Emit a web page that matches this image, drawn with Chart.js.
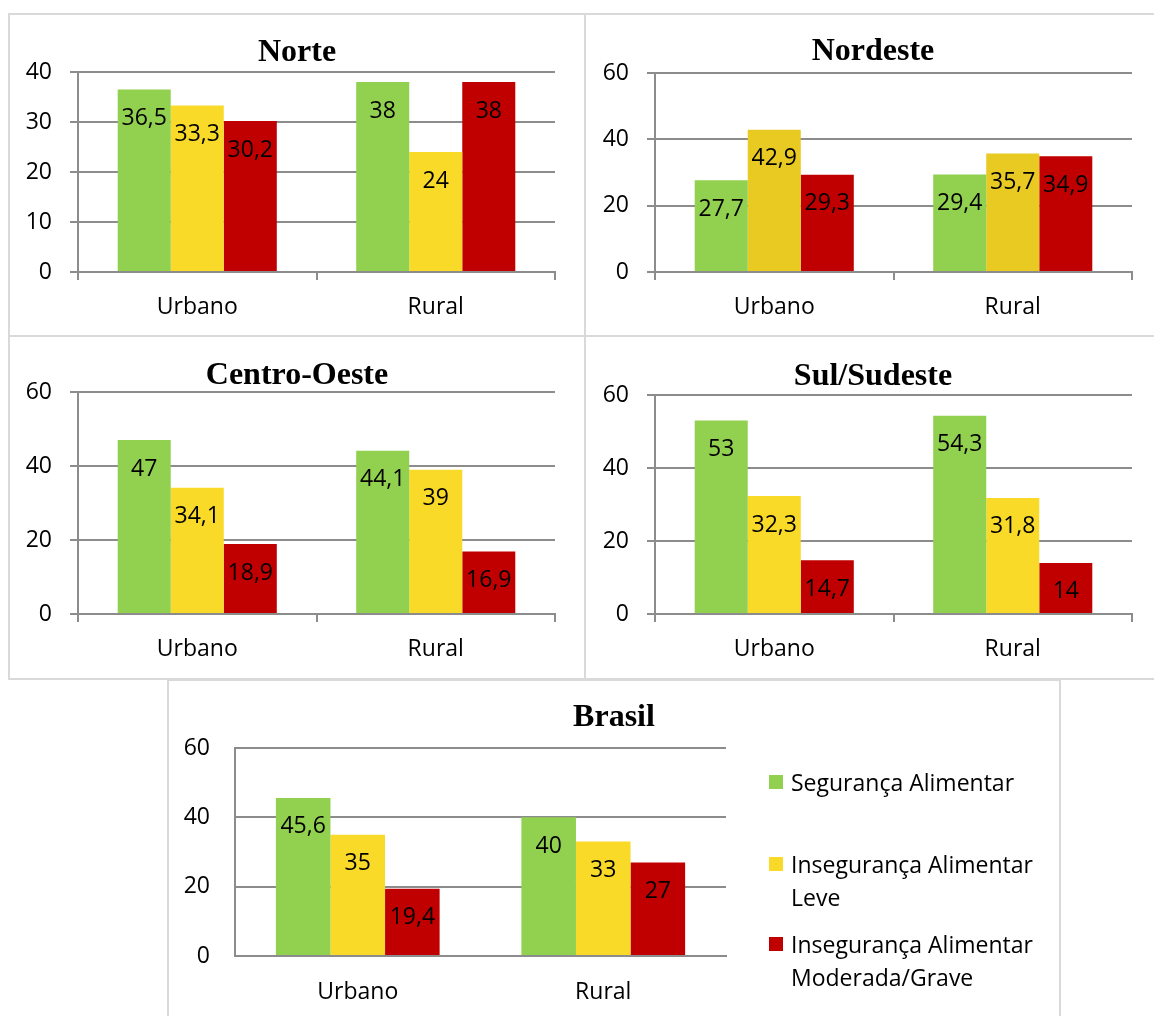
<!DOCTYPE html>
<html>
<head>
<meta charset="utf-8">
<script src="https://cdn.jsdelivr.net/npm/chart.js@4/dist/chart.umd.min.js"></script>
<style>
  body { margin: 0; background: #fff; }
  #page { position: relative; width: 1154px; height: 1016px; overflow: hidden; background: #fff; }
  .panel { position: absolute; border: 2px solid #d9d9d9; box-sizing: border-box; background: #fff; }
  .panel canvas { position: absolute; left: -2px; top: -2px; }
  .legend-item { position: absolute; left: 769px; width: 270px; font-family: "Open Sans", sans-serif; font-size: 23px; line-height: 33px; color: #000; }
  .legend-item .box { position: absolute; left: 0; top: 9px; width: 14px; height: 14px; }
  .legend-item .txt { margin-left: 22px; }
</style>
</head>
<body>
<div id="page">
  <div class="panel" style="left:8px;top:13px;width:578px;height:324px"><canvas id="norte" width="578" height="324"></canvas></div>
  <div class="panel" style="left:584px;top:13px;width:578px;height:324px"><canvas id="nordeste" width="578" height="324"></canvas></div>
  <div class="panel" style="left:8px;top:335px;width:578px;height:345px"><canvas id="centro" width="578" height="345"></canvas></div>
  <div class="panel" style="left:584px;top:335px;width:578px;height:345px"><canvas id="sul" width="578" height="345"></canvas></div>
  <div class="panel" style="left:167px;top:679px;width:894px;height:345px"><canvas id="brasil" width="894" height="345"></canvas></div>
  <div id="legend"></div>
</div>
<script>
// categories and series
const categories = ['Urbano', 'Rural'];
const seriesNames = ['Segurança Alimentar', 'Insegurança Alimentar Leve', 'Insegurança Alimentar Moderada/Grave'];

// values per region (Urbano, Rural)
const norteSeg = [36.5, 38];
const norteLeve = [33.3, 24];
const norteGrave = [30.2, 38];

const nordesteSeg = [27.7, 29.4];
const nordesteLeve = [42.9, 35.7];
const nordesteGrave = [29.3, 34.9];

const centroSeg = [47, 44.1];
const centroLeve = [34.1, 39];
const centroGrave = [18.9, 16.9];

const sulSeg = [53, 54.3];
const sulLeve = [32.3, 31.8];
const sulGrave = [14.7, 14];

const brasilSeg = [45.6, 40];
const brasilLeve = [35, 33];
const brasilGrave = [19.4, 27];

// y ticks
const norteTicks = [0, 10, 20, 30, 40];
const otherTicks = [0, 20, 40, 60];

const GREEN = '#92D050';
const YELLOW = '#F9DA28';
const YELLOW_DARK = '#E8CA23';
const RED = '#C00000';
const GRID = '#8c8c8c';

Chart.defaults.font.family = '"Open Sans", sans-serif';
Chart.defaults.color = '#000';

// title centred on the panel
const panelTitle = {
    id: 'panelTitle',
    afterDraw(chart, args, opts) {
        const ctx = chart.ctx;
        ctx.save();
        ctx.font = 'bold 32px "Liberation Serif"';
        ctx.fillStyle = '#000';
        ctx.textAlign = 'center';
        ctx.textBaseline = 'middle';
        ctx.fillText(opts.text, chart.width / 2, opts.y);
        ctx.restore();
    }
};

// value labels just inside the top of each bar
const valueLabels = {
    id: 'valueLabels',
    afterDatasetsDraw(chart) {
        const ctx = chart.ctx;
        ctx.save();
        ctx.font = '23px "Open Sans"';
        ctx.fillStyle = '#000';
        ctx.textAlign = 'center';
        ctx.textBaseline = 'middle';
        chart.data.datasets.forEach((ds, i) => {
            chart.getDatasetMeta(i).data.forEach((bar, j) => {
                ctx.fillText(String(ds.data[j]).replace('.', ','), bar.x, bar.y + 29);
            });
        });
        ctx.restore();
    }
};

function makePanel(id, title, seg, leve, grave, ticks, geo) {
    const yellow = geo.yellow || YELLOW;
    new Chart(document.getElementById(id), {
        type: 'bar',
        data: {
            labels: categories,
            datasets: [
                { label: seriesNames[0], data: seg, backgroundColor: GREEN },
                { label: seriesNames[1], data: leve, backgroundColor: yellow },
                { label: seriesNames[2], data: grave, backgroundColor: RED }
            ]
        },
        options: {
            responsive: false,
            animation: false,
            events: [],
            layout: { padding: { left: 0, top: geo.top, right: geo.right, bottom: 0 } },
            datasets: { bar: { categoryPercentage: 0.667, barPercentage: 1.0 } },
            plugins: {
                legend: { display: false },
                tooltip: { enabled: false },
                panelTitle: { text: title, y: geo.titleY }
            },
            scales: {
                x: {
                    afterFit: s => { s.height = geo.xHeight; },
                    grid: { drawOnChartArea: false, drawTicks: geo.ticks, tickLength: 8, color: GRID, lineWidth: 2 },
                    border: { display: true, color: GRID, width: 2 },
                    ticks: { font: { size: 23 }, padding: geo.ticks ? 14 : 23, color: '#000' }
                },
                y: {
                    min: ticks[0],
                    max: ticks[ticks.length - 1],
                    afterFit: s => { s.width = geo.yWidth; },
                    afterBuildTicks: s => { s.ticks = ticks.map(v => ({ value: v })); },
                    grid: { color: GRID, lineWidth: 2, drawTicks: geo.ticks, tickLength: 8 },
                    border: { display: true, color: GRID, width: 2 },
                    ticks: { font: { size: 23 }, padding: geo.ticks ? 18 : 25, color: '#000' }
                }
            }
        },
        plugins: [panelTitle, valueLabels]
    });
}

makePanel('norte', 'Norte', norteSeg, norteLeve, norteGrave, norteTicks,
    { top: 59, right: 31, yWidth: 70, xHeight: 65, titleY: 40, ticks: true });
makePanel('nordeste', 'Nordeste', nordesteSeg, nordesteLeve, nordesteGrave, otherTicks,
    { top: 60, right: 30, yWidth: 71, xHeight: 65, titleY: 39, ticks: true, yellow: YELLOW_DARK });
makePanel('centro', 'Centro-Oeste', centroSeg, centroLeve, centroGrave, otherTicks,
    { top: 57, right: 31, yWidth: 70, xHeight: 66, titleY: 41, ticks: true });
makePanel('sul', 'Sul/Sudeste', sulSeg, sulLeve, sulGrave, otherTicks,
    { top: 60, right: 30, yWidth: 71, xHeight: 66, titleY: 42, ticks: true });
makePanel('brasil', 'Brasil', brasilSeg, brasilLeve, brasilGrave, otherTicks,
    { top: 69, right: 335, yWidth: 68, xHeight: 68, titleY: 39, ticks: false });

// legend for the Brasil panel
const legendColors = [GREEN, YELLOW, RED];
const legendTops = [766, 848, 928];
const legend = document.getElementById('legend');
seriesNames.forEach((name, i) => {
    const item = document.createElement('div');
    item.className = 'legend-item';
    item.style.top = legendTops[i] + 'px';
    item.innerHTML = `<span class="box" style="background:${legendColors[i]}"></span><div class="txt">${name}</div>`;
    legend.appendChild(item);
});
</script>
</body>
</html>
